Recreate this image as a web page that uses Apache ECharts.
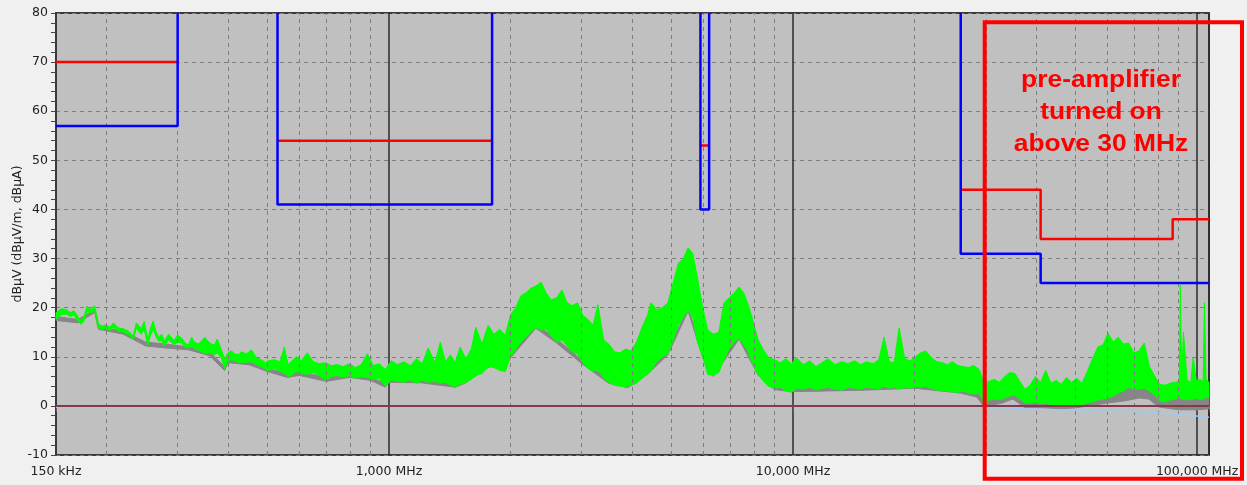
<!DOCTYPE html>
<html>
<head>
<meta charset="utf-8">
<script src="https://cdn.jsdelivr.net/npm/echarts@6/dist/echarts.min.js"></script>
<style>
  html, body { margin: 0; padding: 0; background: #f0f0f0; }
  #chart { width: 1247px; height: 485px; }
</style>
</head>
<body>
<div id="chart"></div>
<script>
// ---------- data (frequency in MHz, level in dBµV) ----------
const xTickValues = [0.15, 1, 10, 100];
const xTickLabels = ['150 kHz', '1,000 MHz', '10,000 MHz', '100,000 MHz'];
const minorGridFreqs = [0.2,0.3,0.4,0.5,0.6,0.7,0.8,0.9,2,3,4,5,6,7,8,9,20,30,40,50,60,70,80,90];
const yAxisName = 'dBµV (dBµV/m, dBµA)';
const annotationText = 'pre-amplifier\nturned on\nabove 30 MHz';

// limit lines (red = peak limit, blue = average limit); 80 = off the top
const redLW  = [[0.15,70],[0.3,70]];
const redMW  = [[0.53,54],[1.8,54]];
const redSW  = [[5.9,53],[6.2,53]];
const redVHF = [[26,44],[41,44],[41,34],[87,34],[87,38],[107,38]];
const blueLW  = [[0.15,57],[0.3,57],[0.3,80]];
const blueMW  = [[0.53,80],[0.53,41],[1.8,41],[1.8,80]];
const blueSW  = [[5.9,80],[5.9,40],[6.2,40],[6.2,80]];
const blueVHF = [[26,80],[26,31],[41,31],[41,25],[107,25]];

// zero reference line and light-blue noise floor line
const zeroLine = [[0.15,0],[107,0]];
const floorLine = [[0.15,-0.3],[0.31,-0.3],[0.32,0],[24,0],[27,-0.3],[35,-0.5],[45,-0.8],[55,-1.0],[65,-1.1],[75,-1.3],[85,-1.6],[95,-1.9],[107,-2.3]];

// green peak trace: [freq, upper envelope, lower envelope]
const greenTrace = [
[0.150,19.0,17.8],[0.155,19.8,18.6],[0.159,19.6,18.7],[0.163,19.0,18.2],[0.166,19.4,18.5],[0.170,18.2,17.3],
[0.173,17.2,16.6],[0.176,18.2,17.3],[0.179,20.3,19.2],[0.183,19.6,18.9],[0.187,20.4,19.4],[0.191,16.8,15.9],
[0.195,16.2,15.5],[0.199,16.5,15.8],[0.204,16.0,15.3],[0.208,16.9,16.0],[0.214,15.9,15.2],[0.220,15.7,15.0],
[0.227,15.2,14.5],[0.233,14.2,13.5],[0.237,16.9,15.8],[0.244,15.8,14.6],[0.248,17.2,15.6],[0.253,13.6,12.4],
[0.257,15.8,14.4],[0.261,17.3,15.6],[0.265,15.2,14.2],[0.269,14.0,13.2],[0.274,14.6,13.2],[0.278,13.2,12.2],
[0.285,14.6,13.4],[0.290,13.8,12.9],[0.294,13.3,12.5],[0.300,14.4,13.0],[0.307,13.8,12.8],[0.313,12.8,12.0],
[0.319,12.4,11.8],[0.325,14.0,12.2],[0.330,13.0,11.6],[0.337,12.6,11.4],[0.344,13.2,11.0],[0.350,14.0,10.6],
[0.358,13.0,10.8],[0.364,12.6,10.6],[0.370,12.4,10.4],[0.376,13.6,10.8],[0.385,11.4,9.8],[0.392,9.6,7.6],
[0.400,10.8,9.2],[0.408,11.2,9.4],[0.414,10.6,9.2],[0.425,10.4,8.8],[0.431,11.0,8.8],[0.444,10.6,8.9],
[0.457,11.4,9.0],[0.470,9.8,8.4],[0.483,9.4,8.0],[0.495,8.8,7.4],[0.503,9.2,7.2],[0.520,9.4,7.6],
[0.538,9.0,7.0],[0.551,12.0,6.6],[0.563,8.4,6.0],[0.573,9.0,6.2],[0.590,10.0,7.0],[0.607,9.2,6.6],
[0.628,10.8,6.4],[0.650,9.0,6.8],[0.672,8.6,6.2],[0.696,8.8,5.2],[0.720,8.2,6.0],[0.745,8.4,6.2],
[0.771,8.0,5.8],[0.798,8.6,6.2],[0.826,7.8,5.6],[0.854,8.4,6.0],[0.884,10.6,5.8],[0.915,8.2,5.4],
[0.946,8.6,5.6],[0.979,7.4,4.0],[1.013,9.2,5.2],
[1.05,8.4,5.0],[1.09,9.0,4.8],[1.13,8.2,5.2],[1.17,9.6,4.6],[1.21,8.6,5.2],[1.25,11.8,4.8],[1.30,8.8,5.0],
[1.34,13.0,4.6],[1.38,9.0,4.8],[1.42,10.4,4.2],[1.46,8.8,3.9],[1.50,12.0,4.4],[1.55,9.6,4.8],[1.60,11.6,5.4],
[1.64,16.0,6.2],[1.70,12.6,6.6],[1.76,16.4,8.0],[1.82,14.6,7.8],[1.88,15.6,7.2],[1.94,14.4,7.0],[2.00,18.6,10.0],
[2.06,20.0,11.4],[2.12,22.4,13.0],[2.18,23.0,14.0],[2.25,24.0,15.2],[2.31,24.4,16.0],[2.38,25.2,15.4],[2.45,23.0,15.6],
[2.52,21.6,14.2],[2.60,22.0,13.0],[2.68,23.6,13.4],[2.76,21.0,12.2],[2.84,20.4,11.0],[2.93,21.0,10.6],[3.02,18.4,8.8],
[3.11,17.6,7.6],[3.20,16.4,7.0],[3.29,20.6,7.4],[3.40,13.4,5.6],[3.50,12.6,4.8],[3.62,11.0,4.2],[3.73,10.8,4.0],
[3.85,11.6,3.9],[3.97,11.2,4.2],[4.10,13.0,4.6],[4.23,16.0,5.6],[4.36,18.4,6.6],[4.45,21.0,7.0],[4.60,19.6,9.0],
[4.75,20.0,10.0],[4.90,21.0,10.6],[5.05,25.0,13.4],[5.20,29.0,16.4],[5.35,30.0,18.0],[5.50,32.2,19.5],[5.65,31.0,18.0],
[5.80,26.0,13.0],[5.98,20.0,10.0],[6.15,15.5,6.4],[6.35,14.6,6.2],[6.55,15.0,6.8],[6.75,21.0,9.4],[6.95,22.0,11.6],
[7.15,23.0,13.0],[7.35,24.2,13.8],[7.55,23.0,12.4],[7.75,20.6,11.0],[7.95,17.5,8.4],[8.20,13.4,6.4],[8.45,11.4,5.0],
[8.70,9.8,4.0],[9.00,9.4,3.6],[9.30,8.8,3.8],[9.60,9.6,3.0],[9.90,8.6,2.8],[10.2,9.8,3.6],[10.6,8.4,3.4],
[11.0,9.2,3.8],[11.4,8.0,3.2],[11.8,8.8,3.6],[12.2,9.6,3.8],[12.7,8.4,3.4],[13.2,9.0,3.2],[13.7,8.6,3.8],
[14.2,9.2,3.6],[14.7,8.4,3.4],[15.2,9.0,3.8],[15.8,8.6,3.6],[16.3,9.4,3.4],[16.8,14.0,4.0],[17.3,9.0,3.6],
[17.8,8.8,3.8],[18.3,15.9,3.4],[18.9,9.6,3.8],[19.5,9.2,3.6],[20.1,10.0,4.0],[20.7,10.8,3.8],[21.3,11.2,4.0],
[22.0,9.8,3.6],[22.7,9.0,3.2],[23.4,8.8,3.2],[24.1,8.4,3.0],[24.8,9.0,2.8],[25.6,8.2,2.8],[26.4,8.0,3.0],
[27.2,7.8,2.6],[28.0,8.2,2.4],[28.9,7.4,2.6],[29.7,4.6,0.6],[30.6,5.0,1.2],[31.5,5.4,1.4],[32.4,4.8,1.2],
[33.4,6.0,1.6],[34.4,6.8,2.0],[35.4,6.6,2.2],[36.4,5.0,1.4],[37.5,3.4,0.6],[38.6,4.2,0.6],[39.8,6.0,0.8],
[41.0,4.8,0.4],[42.2,7.2,0.6],[43.5,4.6,0.2],[44.8,5.2,0.0],[46.1,4.4,-0.2],[47.5,5.8,0.2],[48.9,4.8,0.0],
[50.4,5.6,-0.2],[51.9,4.6,0.2],[53.5,7.0,0.6],[55.1,9.6,0.8],[56.8,12.0,1.2],[58.5,12.4,1.4],[60.2,14.8,1.6],
[62.0,13.0,2.0],[63.8,14.0,2.6],[65.7,12.6,3.0],[67.7,12.8,3.8],[69.7,10.8,3.4],[71.8,11.2,3.4],[74.0,12.8,3.6],
[76.2,8.0,3.0],[78.4,6.2,2.2],[80.8,4.4,1.0],[83.2,4.2,0.8],[85.7,4.6,1.2],[88.2,4.8,1.4],[90.3,5.0,1.6],
[90.9,24.6,1.6],[91.5,5.0,1.4],[92.5,15.0,1.2],[94.5,5.2,1.4],[96.5,4.8,1.2],[97.8,9.8,1.4],[99.5,5.2,1.6],
[101.5,5.4,1.2],[103.5,5.0,1.4],[104.3,21.0,1.6],[105.2,5.4,1.8],[107,4.8,1.6]
];

// grey average trace: [freq, upper envelope, lower envelope]
const greyTrace = [
[0.15,18.2,17.4],[0.17,17.6,16.9],[0.187,19.6,19.0],[0.191,16.2,15.6],[0.22,15.2,14.6],[0.25,13.0,12.2],
[0.28,12.6,11.8],[0.32,12.0,11.4],[0.36,11.0,10.2],[0.392,8.0,7.2],[0.40,9.4,8.8],[0.45,9.0,8.4],[0.50,7.6,7.0],
[0.56,6.6,5.8],[0.60,7.0,6.2],[0.70,5.8,5.0],[0.80,6.4,5.8],[0.90,5.8,5.2],[0.98,4.6,3.8],[1.0,5.4,4.8],
[1.2,5.4,4.7],[1.46,4.6,3.8],[1.55,5.4,4.7],[1.76,8.6,7.8],[2.0,10.6,9.8],[2.31,16.6,15.8],[2.6,13.6,12.8],
[3.0,9.4,8.6],[3.5,5.4,4.6],[3.9,4.6,3.7],[4.36,7.2,6.4],[4.9,11.2,10.4],[5.5,20.0,19.3],[5.98,10.6,9.8],
[6.35,6.8,6.0],[7.35,14.4,13.6],[8.2,7.0,6.2],[9.0,4.2,3.3],[10,3.8,2.9],[15,4.0,3.2],[20,4.4,3.6],
[26,3.4,2.6],[28.5,3.0,1.8],[29.7,1.0,-0.2],[33,2.2,0.6],[35,3.2,1.4],[37.5,1.2,-0.4],[41,1.4,-0.4],
[46,1.0,-0.6],[50,1.6,-0.4],[54,2.0,0.0],[60,3.2,0.6],[66,4.0,1.0],[72,4.6,1.6],[76,4.2,1.4],[80,2.2,-0.2],
[90,1.6,-0.8],[100,1.8,-0.8],[107,1.6,-0.6]
];

// ---------- chart ----------
const FONT = 'DejaVu Sans';

function joinSegs(segs) {
  const out = [];
  segs.forEach(function (s, i) {
    if (i > 0) out.push([s[0][0], '-']);
    s.forEach(function (p) { out.push(p); });
  });
  return out;
}

function bandSeries(name, trace, color, z) {
  return {
    type: 'custom', name: name, z: z, silent: true,
    coordinateSystem: 'cartesian2d',
    data: [[trace[0][0], trace[0][2]]],
    renderItem: function (params, api) {
      const pts = [];
      for (let i = 0; i < trace.length; i++) pts.push(api.coord([trace[i][0], trace[i][1]]));
      for (let i = trace.length - 1; i >= 0; i--) pts.push(api.coord([trace[i][0], trace[i][2]]));
      return {
        type: 'polygon',
        shape: { points: pts },
        style: { fill: color, stroke: color, lineWidth: 1, lineJoin: 'bevel' }
      };
    }
  };
}

function lineSeries(name, data, color, width, z) {
  return {
    type: 'line', name: name, data: data, z: z, silent: true,
    symbol: 'none', connectNulls: false, clip: true,
    lineStyle: { color: color, width: width },
    emphasis: { disabled: true }
  };
}

const chart = echarts.init(document.getElementById('chart'), null, { renderer: 'canvas' });

const option = {
  animation: false,
  backgroundColor: '#f0f0f0',
  grid: {
    left: 56, right: 38, top: 13, bottom: 30,
    containLabel: false, outerBoundsMode: 'none',
    show: true, backgroundColor: '#c0c0c0', borderColor: '#3a3a3a', borderWidth: 2
  },
  xAxis: {
    type: 'log', logBase: 10, min: 0.15, max: 107,
    axisLine: { show: true, lineStyle: { color: '#3a3a3a', width: 2 } },
    axisTick: { show: true, length: 6, lineStyle: { color: '#7a4a8a' } },
    splitLine: { show: true, lineStyle: { color: '#2b2b2b', width: 1.5 } },
    axisLabel: {
      margin: 10, color: '#222', fontFamily: FONT, fontSize: 12.5,
      showMinLabel: true, showMaxLabel: true, hideOverlap: false,
      formatter: function (v) {
        for (let i = 0; i < xTickValues.length; i++) {
          if (Math.abs(Math.log10(v) - Math.log10(xTickValues[i])) < 0.005) return xTickLabels[i];
        }
        return '';
      }
    }
  },
  yAxis: {
    type: 'value', min: -10, max: 80, interval: 10,
    name: yAxisName, nameLocation: 'middle', nameGap: 32, nameRotate: 90,
    nameMoveOverlap: false,
    nameTextStyle: { color: '#222', fontFamily: FONT, fontSize: 12.5 },
    axisLine: { show: true, lineStyle: { color: '#3a3a3a', width: 2 } },
    axisTick: { show: true, length: 5, lineStyle: { color: '#444' } },
    minorTick: { show: true, splitNumber: 5, length: 5, lineStyle: { color: '#444' } },
    splitLine: { show: true, lineStyle: { color: '#7d7d7d', type: [4, 4], width: 1 } },
    axisLabel: { margin: 8, color: '#222', fontFamily: FONT, fontSize: 12.5 }
  },
  series: [
    {
      type: 'line', name: 'minor grid', data: zeroLine, z: 1, silent: true,
      symbol: 'none', lineStyle: { opacity: 0 },
      markLine: {
        silent: true, symbol: ['none', 'none'], label: { show: false },
        lineStyle: { color: '#7d7d7d', type: [4, 4], width: 1 },
        emphasis: { disabled: true },
        data: minorGridFreqs.map(function (f) { return { xAxis: f }; })
      }
    },
    bandSeries('average', greyTrace, '#868686', 3),
    bandSeries('peak', greenTrace, '#00ff00', 4),
    lineSeries('floor', floorLine, '#a4c8ee', 1.5, 5),
    lineSeries('zero', zeroLine, '#843a48', 2, 6),
    lineSeries('peak limit', joinSegs([redLW, redMW, redSW, redVHF]), '#ff0000', 2.5, 7),
    lineSeries('average limit', joinSegs([blueLW, blueMW, blueSW, blueVHF]), '#0000ff', 2.5, 8)
  ],
  graphic: [
    {
      type: 'rect', z: 100, silent: true,
      shape: { x: 984.7, y: 22.3, width: 257.3, height: 456.4 },
      style: { fill: 'none', stroke: '#ff0000', lineWidth: 4 }
    },
    {
      type: 'text', z: 100, silent: true, x: 1101, y: 65, scaleX: 1.1,
      style: {
        text: annotationText, fill: '#ff0000', align: 'center', verticalAlign: 'top',
        font: 'bold 24px "Liberation Sans", Arial, sans-serif', lineHeight: 31.7
      }
    }
  ]
};

chart.setOption(option);
</script>
</body>
</html>
